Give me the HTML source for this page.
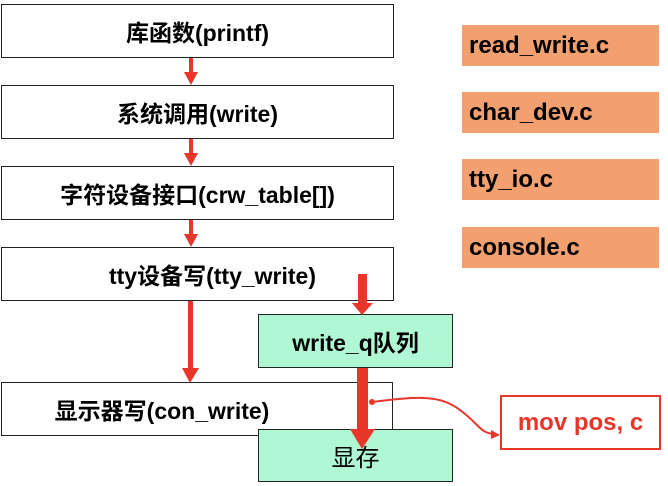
<!DOCTYPE html>
<html><head><meta charset="utf-8"><style>
body{margin:0;width:668px;height:486px;background:#fff;position:relative;overflow:hidden;font-family:"Liberation Sans","Noto Sans CJK SC",sans-serif;}
.b{position:absolute;box-sizing:border-box;border:1.5px solid #222;display:flex;align-items:center;justify-content:center;font-size:23px;color:#000;}
.w{background:#fff;}
.g{background:#b0f7d3;}
.o{position:absolute;background:#f2a06f;font-size:24px;font-weight:bold;color:#000;display:flex;align-items:center;padding-left:7px;box-sizing:border-box;}
b{font-weight:bold}
</style></head><body>
<div class="b w" style="left:1px;top:4px;width:393px;height:54px"><b>库函数(printf)</b></div>
<div class="b w" style="left:1px;top:85px;width:393px;height:54px"><b>系统调用(write)</b></div>
<div class="b w" style="left:1px;top:166px;width:393px;height:54px"><b>字符设备接口(crw_table[])</b></div>
<div class="b w" style="left:1px;top:247px;width:393px;height:54px;padding-left:30px"><b>tty设备写(tty_write)</b></div>
<div class="b w" style="left:1px;top:382px;width:392px;height:54px;padding-right:70px"><b>显示器写(con_write)</b></div>
<div class="b g" style="left:258px;top:314px;width:195px;height:54px"><b>write_q队列</b></div>
<div class="b g" style="left:258px;top:429px;width:195px;height:53px;font-size:24px">显存</div>
<div class="o" style="left:462px;top:25px;width:197px;height:41px">read_write.c</div>
<div class="o" style="left:462px;top:92px;width:197px;height:41px">char_dev.c</div>
<div class="o" style="left:462px;top:159px;width:197px;height:41px">tty_io.c</div>
<div class="o" style="left:462px;top:227px;width:197px;height:41px">console.c</div>
<div style="position:absolute;left:500px;top:395px;width:161px;height:55px;box-sizing:border-box;border:2px solid #e8362a;background:#fff;color:#e8362a;font-weight:bold;font-size:24px;display:flex;align-items:center;justify-content:center">mov pos, c</div>
<svg width="668" height="486" style="position:absolute;left:0;top:0" fill="#e8362a">
<g>
<rect x="189" y="58" width="4" height="15"/><polygon points="184,72 198,72 191,85"/>
<rect x="189" y="139" width="4" height="15"/><polygon points="184,153 198,153 191,166"/>
<rect x="189" y="220" width="4" height="15"/><polygon points="184,234 198,234 191,247"/>
<rect x="188" y="301" width="5" height="68"/><polygon points="182,368 199,368 190,383"/>
<rect x="358" y="274" width="9" height="30"/><polygon points="352,303 373,303 362,315"/>
<rect x="357" y="368" width="11" height="62"/><polygon points="350,429 375,429 362,449"/>
</g>
<circle cx="372" cy="402" r="3"/>
<path d="M372,402 C420,396 440,395 460,410 S480,433 494,434" fill="none" stroke="#e8362a" stroke-width="2"/>
<polygon points="500,435 491,430 491,439"/>
</svg>
</body></html>
